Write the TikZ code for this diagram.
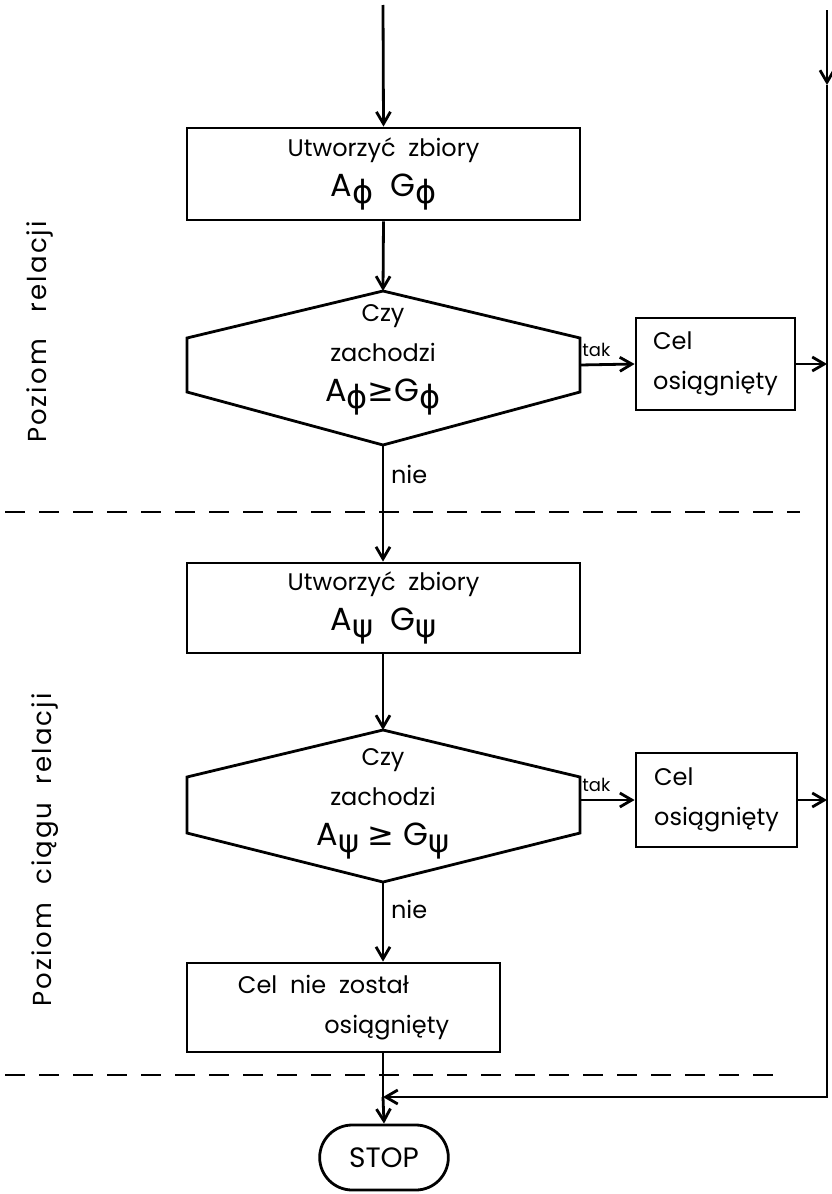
\documentclass[tikz,border=0pt]{standalone}
\usepackage{fontspec}
\setmainfont{Poppins}
\newfontfamily\greekfont{DejaVu Sans}
\usetikzlibrary{arrows.meta,shapes.misc}

% Greek index set a little lower, as in the drawing
\newcommand{\lowsym}[1]{\raisebox{-0.4ex}{\greekfont #1}}
% Larger letters for the set names
\newcommand{\setline}[1]{{\fontsize{16}{20}\selectfont #1}}

\begin{document}
\begin{tikzpicture}[x=0.5pt, y=-0.5pt, line width=1.4pt,
  font=\fontsize{12}{20}\selectfont,
  box/.style={draw, rectangle, inner sep=0pt, align=center},
  flow/.style={-{Straight Barb[length=6pt,width=7pt]}},
  sep/.style={dash pattern=on 10pt off 7pt},
  level/.style={rotate=90, font=\fontsize{13}{16}\selectfont\addfontfeature{LetterSpace=8}}]
  % Page frame
  \useasboundingbox (0,0) rectangle (831,1194);

  % Level labels
  \node[level] (lev1) at (40,332) {Poziom\ \ \ relacji};
  \node[level] (lev2) at (45,850) {Poziom\ \ ciągu\ \ relacji};

  % First level: sets A phi, G phi
  \coordinate (start) at (383,5);
  \node[box, minimum width=196.5pt, minimum height=46pt] (zb1) at (383.5,174)
    {Utworzyć\ \ zbiory\\\setline{A\lowsym{ϕ}\ \ G\lowsym{ϕ}}};
  \draw[flow] (start) -- (zb1.north);

  % First test
  \draw (383,291) coordinate (q1n) -- (580,338) -- (580,392)
    -- (383,445) coordinate (q1s) -- (187,392) -- (187,338) -- cycle;
  \coordinate (q1e) at (580,365);
  \node[align=center] (q1) at (383,360)
    {Czy\\zachodzi\\\setline{A\lowsym{ϕ}{\greekfont ≥}G\lowsym{ϕ}}};
  \draw[flow] (zb1.south) -- (q1n);

  \node[box, align=left, minimum width=79.5pt, minimum height=46pt] (cel1) at (715.5,364)
    {Cel\\osiągnięty};
  \draw[flow] (q1e) -- node[above, pos=0.3, font=\small] {tak} (cel1.west);
  \coordinate (r1) at (827,364);
  \draw[flow] (cel1.east) -- (r1);

  % Border between levels
  \draw[sep] (5,512) -- (800,512);

  % Second level: sets A psi, G psi
  \node[box, minimum width=196.5pt, minimum height=45pt] (zb2) at (383.5,608)
    {Utworzyć\ \ zbiory\\\setline{A\lowsym{ψ}\ \ G\lowsym{ψ}}};
  \draw[flow] (q1s) -- node[right, pos=0.25] {nie} (q1s |- zb2.north);

  % Second test
  \draw (383,730) coordinate (q2n) -- (580,777) -- (580,833)
    -- (383,882) coordinate (q2s) -- (187,833) -- (187,777) -- cycle;
  \coordinate (q2e) at (580,800);
  \node[align=center] (q2) at (383,804)
    {Czy\\zachodzi\\\setline{A\lowsym{ψ}\ {\greekfont ≥}\ G\lowsym{ψ}}};
  \draw[flow] (q1s |- zb2.south) -- (q2n);

  \node[box, align=left, minimum width=80.5pt, minimum height=47pt] (cel2) at (716.5,800)
    {Cel\\osiągnięty};
  \draw[flow] (q2e) -- node[above, pos=0.3, font=\small] {tak} (cel2.west);
  \coordinate (r2) at (827,800);
  \draw[flow] (cel2.east) -- (r2);

  % Failure
  \node[box, align=left, minimum width=156.5pt, minimum height=44.5pt] (zb3) at (343.5,1007.5)
    {Cel\ \ nie\ \ został\\\hspace*{3.6em}osiągnięty};
  \draw[flow] (q2s) -- node[right, pos=0.35] {nie} (q2s |- zb3.north);

  % Border below second level
  \draw[sep] (5,1075) -- (785,1075);

  % Return line and end
  \coordinate (rtop) at (827,10);
  \coordinate (rmid) at (827,85);
  \coordinate (rbot) at (827,1097);
  \coordinate (join) at (383,1097);
  \draw[flow] (rtop) -- (rmid);
  \draw[flow] (rmid) -- (rbot) -- (join);
  \draw (q2s |- zb3.south) -- (join);

  \node[draw, rounded rectangle, minimum width=71pt, minimum height=32.5pt,
    font=\fontsize{14}{16}\selectfont] (stop) at (384,1157.5) {STOP};
  \draw[flow] (join) -- (stop.north);
\end{tikzpicture}
\end{document}
